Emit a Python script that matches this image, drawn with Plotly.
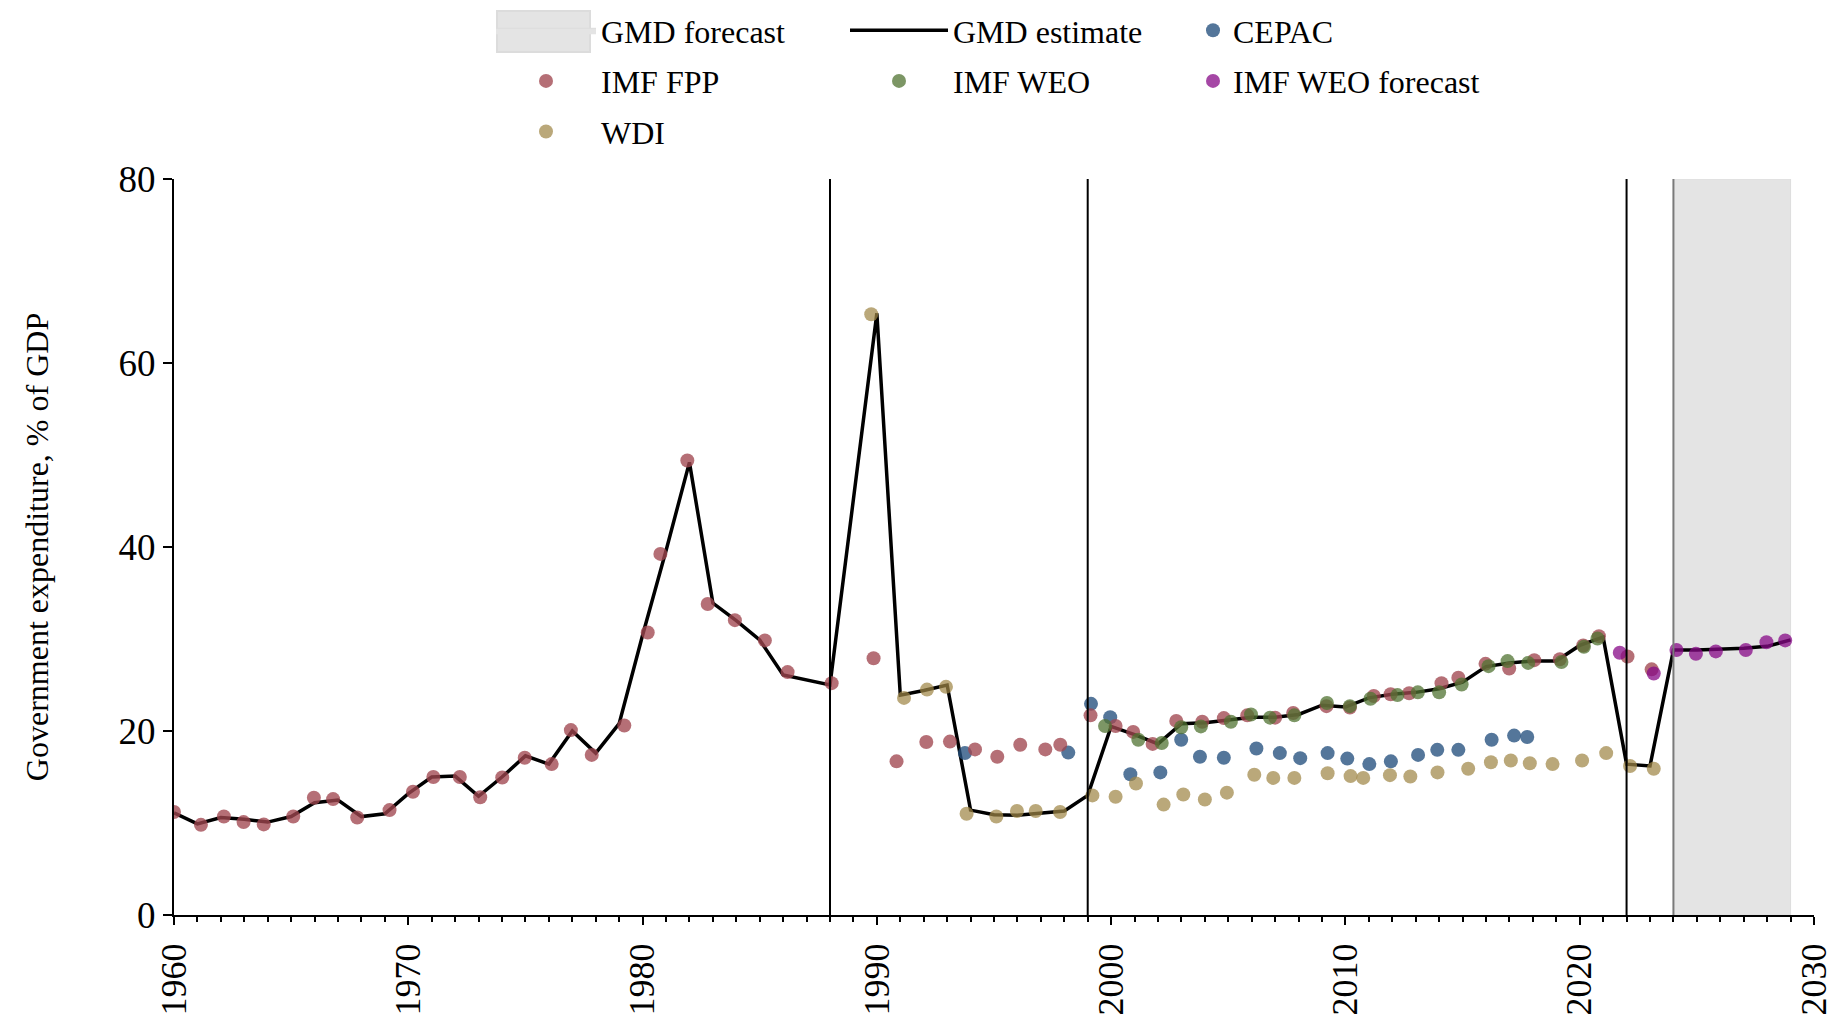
import plotly.graph_objects as go

# ---------------- data ----------------
gmd_years = [1960, 1961, 1962, 1963, 1964, 1965, 1966, 1967, 1968, 1969,
             1970, 1971, 1972, 1973, 1974, 1975, 1976, 1977, 1978, 1979,
             1980, 1981, 1982, 1983, 1984, 1985, 1986, 1988, 1990, 1991,
             1992, 1993, 1994, 1995, 1996, 1997, 1998, 1999, 2000, 2001,
             2002, 2003, 2004, 2005, 2006, 2007, 2008, 2009, 2010, 2011,
             2012, 2013, 2014, 2015, 2016, 2017, 2018, 2019, 2020, 2021,
             2022, 2023, 2024, 2025, 2026, 2027, 2028, 2029]
gmd_vals = [11.1, 9.9, 10.6, 10.4, 10.1, 10.7, 12.2, 12.5, 10.7, 11.0,
            13.2, 15.0, 15.1, 12.9, 15.0, 17.3, 16.4, 20.0, 17.6, 20.8,
            30.4, 39.6, 49.2, 33.9, 32.0, 29.9, 26.1, 25.0, 65.4, 23.9,
            24.4, 25.0, 11.4, 10.9, 10.85, 11.1, 11.3, 13.0, 20.5, 19.6,
            18.6, 20.8, 20.9, 21.2, 21.5, 21.5, 21.8, 22.8, 22.6, 23.6,
            24.0, 24.2, 24.6, 25.3, 27.0, 27.4, 27.6, 27.6, 29.3, 30.2,
            16.4, 16.2, 28.8, 28.8, 28.9, 29.0, 29.2, 29.9]

fpp_x = [1960.0, 1961.15, 1962.13, 1962.97, 1963.83, 1965.09, 1965.97, 1966.79, 1967.82, 1969.2,
         1970.2, 1971.07, 1972.2, 1973.07, 1974.01, 1974.97, 1976.12, 1976.94, 1977.83, 1979.22,
         1980.22, 1980.76, 1981.91, 1982.78, 1983.94, 1985.22, 1986.19, 1988.07, 1989.86, 1990.84,
         1992.11, 1993.12, 1994.19, 1995.14, 1996.12, 1997.19, 1997.83, 1999.12, 2000.19, 2000.94,
         2001.77, 2002.78, 2003.89, 2004.81, 2005.81, 2007.0, 2007.77, 2009.19, 2010.19, 2011.21,
         2011.93, 2012.72, 2014.1, 2014.82, 2015.98, 2016.99, 2018.06, 2019.15, 2020.15, 2020.82,
         2022.04, 2023.07]
fpp_vals = [11.2, 9.8, 10.7, 10.1, 9.85, 10.7, 12.75, 12.6, 10.6, 11.4,
            13.4, 15.0, 15.0, 12.8, 14.95, 17.1, 16.4, 20.1, 17.4, 20.6,
            30.7, 39.25, 49.4, 33.8, 32.05, 29.85, 26.4, 25.2, 27.9, 16.7,
            18.8, 18.85, 18.0, 17.2, 18.5, 18.0, 18.5, 21.7, 20.55, 19.9,
            18.6, 21.1, 21.0, 21.4, 21.7, 21.45, 21.95, 22.7, 22.55, 23.8,
            24.0, 24.1, 25.2, 25.8, 27.3, 26.8, 27.7, 27.8, 29.3, 30.3,
            28.1, 26.7]

cepac_x = [1993.76, 1998.17, 1999.14, 1999.96, 2000.82, 2002.1, 2002.99, 2003.79, 2004.81, 2006.2,
           2007.2, 2008.07, 2009.24, 2010.08, 2011.02, 2011.94, 2013.1, 2013.92, 2014.82, 2016.24,
           2017.2, 2017.76]
cepac_vals = [17.6, 17.65, 22.95, 21.5, 15.3, 15.5, 19.05, 17.2, 17.1, 18.1,
              17.6, 17.05, 17.6, 17.0, 16.4, 16.7, 17.4, 17.95, 17.95, 19.05,
              19.5, 19.35]

wdi_x = [1989.76, 1991.16, 1992.14, 1992.95, 1993.83, 1995.1, 1995.98, 1996.78, 1997.82, 1999.2,
         2000.19, 2001.06, 2002.24, 2003.08, 2004.0, 2004.94, 2006.11, 2006.92, 2007.82, 2009.24,
         2010.22, 2010.76, 2011.9, 2012.77, 2013.93, 2015.24, 2016.21, 2017.06, 2017.87, 2018.84,
         2020.1, 2021.13, 2022.15, 2023.16]
wdi_vals = [65.3, 23.6, 24.5, 24.8, 11.0, 10.7, 11.3, 11.3, 11.2, 13.0,
            12.85, 14.3, 12.0, 13.1, 12.55, 13.3, 15.25, 14.9, 14.9, 15.4,
            15.1, 14.9, 15.2, 15.05, 15.5, 15.9, 16.6, 16.8, 16.5, 16.4,
            16.8, 17.6, 16.2, 15.9]

weo_x = [1999.74, 2001.16, 2002.16, 2002.99, 2003.83, 2005.11, 2005.97, 2006.78, 2007.82, 2009.21,
         2010.19, 2011.07, 2012.22, 2013.09, 2014.0, 2014.96, 2016.11, 2016.92, 2017.8, 2019.22,
         2020.18, 2020.76]
weo_vals = [20.55, 19.05, 18.7, 20.4, 20.5, 21.0, 21.8, 21.45, 21.7, 23.05,
            22.7, 23.5, 23.9, 24.2, 24.2, 25.05, 27.05, 27.6, 27.4, 27.5,
            29.15, 30.05]

weo_fc_x = [2021.71, 2023.16, 2024.13, 2024.96, 2025.81, 2027.09, 2027.97, 2028.77]
weo_fc_vals = [28.5, 26.25, 28.8, 28.4, 28.65, 28.8, 29.65, 29.85]

break_years = [1988, 1999, 2022]
forecast_span = [2024, 2029]
y_range = [0, 80]
x_range = [1960, 2030]
x_ticks = [1960, 1970, 1980, 1990, 2000, 2010, 2020, 2030]
y_ticks = [0, 20, 40, 60, 80]

# ---------------- figure ----------------
FONT = "Liberation Serif"
W, H = 1837, 1019
ML, MR, MT, MB = 174, 23, 179, 104
PW, PH = W - ML - MR, H - MT - MB


def px_x(px):
    return (px - ML) / PW


def px_y(py):
    return (H - MB - py) / PH


fig = go.Figure()

fs, fe = forecast_span
fig.add_trace(go.Scatter(
    x=[fs, fe, fe, fs, fs], y=[y_range[0], y_range[0], y_range[1], y_range[1], y_range[0]],
    mode="lines", fill="toself", fillcolor="#e4e4e4", line=dict(color="#dddddd", width=1),
    name="GMD forecast", legend="legend", legendgroup="a", hoverinfo="skip"))

fig.add_trace(go.Scatter(
    x=gmd_years, y=gmd_vals, mode="lines", line=dict(color="black", width=3.5),
    name="GMD estimate", legend="legend2", legendgroup="b"))

marker_series = [
    ("CEPAC", cepac_x, cepac_vals, "rgba(36,80,125,0.78)", "legend3", "c"),
    ("IMF FPP", fpp_x, fpp_vals, "rgba(160,70,80,0.78)", "legend", "d"),
    ("IMF WEO", weo_x, weo_vals, "rgba(80,115,50,0.75)", "legend2", "e"),
    ("IMF WEO forecast", weo_fc_x, weo_fc_vals, "rgba(135,10,135,0.75)", "legend3", "f"),
    ("WDI", wdi_x, wdi_vals, "rgba(160,135,70,0.72)", "legend", "g"),
]
for name, xs, ys, col, lg, grp in marker_series:
    fig.add_trace(go.Scatter(
        x=xs, y=ys, mode="markers", name=name, legend=lg, legendgroup=grp,
        marker=dict(color=col, size=14, line=dict(width=0))))

shapes = []
for yr in break_years:
    shapes.append(dict(type="line", xref="x", yref="y", x0=yr, x1=yr,
                       y0=y_range[0], y1=y_range[1], line=dict(color="black", width=2),
                       layer="above"))
shapes.append(dict(type="line", xref="x", yref="y", x0=fs, x1=fs,
                   y0=y_range[0], y1=y_range[1], line=dict(color="#7a7a7a", width=2),
                   layer="above"))
# large legend swatch for the forecast band
shapes.append(dict(type="rect", xref="paper", yref="paper",
                   x0=px_x(497), x1=px_x(590), y0=px_y(52), y1=px_y(11),
                   fillcolor="#e4e4e4", line=dict(color="#dcdcdc", width=2)))

leg_common = dict(orientation="v", yanchor="top", xanchor="left",
                  font=dict(family=FONT, size=32, color="black"),
                  bgcolor="rgba(0,0,0,0)", borderwidth=0, tracegroupgap=6,
                  traceorder="grouped")

fig.update_layout(
    width=W, height=H,
    margin=dict(l=ML, r=MR, t=MT, b=MB, autoexpand=False),
    paper_bgcolor="white", plot_bgcolor="white",
    font=dict(family=FONT, color="black"),
    showlegend=True,
    legend=dict(leg_common, x=px_x(491), y=px_y(3), itemwidth=100),
    legend2=dict(leg_common, x=px_x(845), y=px_y(3), itemwidth=98),
    legend3=dict(leg_common, x=px_x(1193), y=px_y(3), itemwidth=30),
    shapes=shapes,
    xaxis=dict(range=x_range, tickvals=x_ticks, tickangle=-90,
               showgrid=False, zeroline=False, showline=True, linecolor="black", linewidth=2,
               ticks="outside", ticklen=8, tickwidth=2, tickcolor="black",
               ticklabelstandoff=4,
               tickfont=dict(family=FONT, size=36, color="black"),
               minor=dict(dtick=1, ticks="outside", ticklen=5, tickwidth=1.5, tickcolor="black",
                          showgrid=False),
               automargin=False),
    yaxis=dict(range=y_range, tickvals=y_ticks,
               showgrid=False, zeroline=False, showline=True, linecolor="black", linewidth=2,
               ticks="outside", ticklen=9, tickwidth=2, tickcolor="black",
               tickfont=dict(family=FONT, size=37, color="black"),
               title=dict(text="Government expenditure, % of GDP",
                          font=dict(family=FONT, size=32, color="black"), standoff=60),
               automargin=False),
)

fig.write_html("out.html", config={"displayModeBar": False},
               post_script="document.body.style.margin='0px';")
